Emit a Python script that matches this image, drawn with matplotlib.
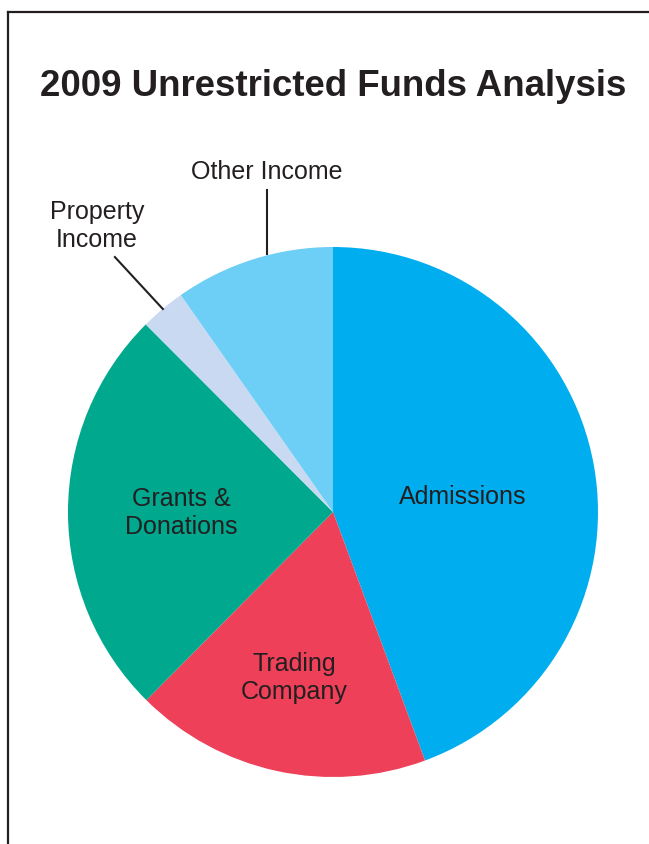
import numpy as np
import matplotlib
matplotlib.use("Agg")
import matplotlib.pyplot as plt
from matplotlib.lines import Line2D

## Data (percent of unrestricted funds)
categories = ["Admissions", "Trading\nCompany", "Grants &\nDonations", "Property\nIncome", "Other Income"]
shares = [44.4, 18.1, 25.1, 2.75, 9.75]
colors = ["#00AEEF", "#EE4058", "#00A88E", "#C9D9F1", "#6DCFF6"]
title = "2009 Unrestricted Funds Analysis"

plt.rcParams['font.family'] = ['Liberation Sans', 'DejaVu Sans']
ink = "#231f20"
lab_size = 18

fig = plt.figure(figsize=(6.49, 8.45), dpi=100)

## frame: top and left edges only
fig.add_artist(Line2D([7.5/649, 7.5/649], [0, 1 - 13/845], transform=fig.transFigure, color=ink, lw=1.6))
fig.add_artist(Line2D([7.5/649, 1], [1 - 13/845, 1 - 13/845], transform=fig.transFigure, color=ink, lw=1.6))

fig.text(40/649, 1 - 86/845, title, fontsize=26.4, fontweight='bold', color=ink, va='center', ha='left')

ax = fig.add_axes([68/649, 67/845, 530/649, 530/845])
ax.pie(shares, colors=colors, startangle=90, counterclock=False, radius=1,
       wedgeprops=dict(linewidth=0))
ax.set_xlim(-1, 1)
ax.set_ylim(-1, 1)
ax.set_aspect('equal')
ax.axis('off')

## labels inside the pie
inside = {0: (0.49, 0.06), 1: (-0.147, -0.623), 2: (-0.574, 0.0)}
for i, (x, y) in inside.items():
    ax.text(x, y, categories[i], ha='center', va='center', fontsize=lab_size, color=ink, linespacing=1.22)

## labels outside with leader lines
ax.text(-0.249, 1.287, categories[4], ha='center', va='center', fontsize=lab_size, color=ink, clip_on=False)
ax.plot([-0.249, -0.249], [1.215, 0.973], color=ink, lw=1.5, clip_on=False)
ax.text(-0.891, 1.083, categories[3], ha='center', va='center', fontsize=lab_size, color=ink,
        linespacing=1.22, clip_on=False)
ax.plot([-0.823, -0.642], [0.962, 0.766], color=ink, lw=1.5, clip_on=False)

fig.savefig("out.png", dpi=100)
